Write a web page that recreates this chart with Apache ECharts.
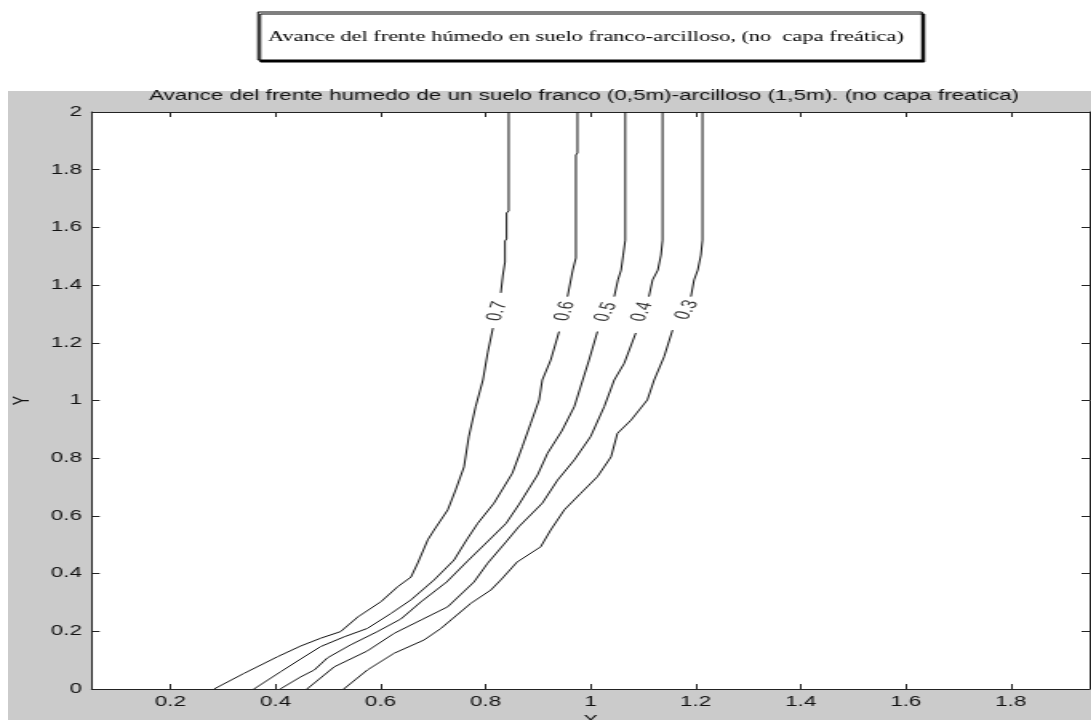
<!DOCTYPE html>
<html>
<head>
<meta charset="utf-8">
<script src="https://cdn.jsdelivr.net/npm/echarts@6/dist/echarts.min.js"></script>
<style>
html,body{margin:0;padding:0;background:#fff;overflow:hidden;}
#wrap{position:absolute;left:0;top:0;width:1091px;height:720px;overflow:hidden;background:#fff;}
#figbg{position:absolute;left:8px;top:91px;width:1083px;height:629px;background:#cbcbcb;}
#chart{position:absolute;left:0;top:0;width:682px;height:720px;transform:scaleX(1.6);transform-origin:0 0;}
</style>
</head>
<body>
<div id="wrap"><div id="figbg"></div><div id="chart"></div></div>
<script>
// ---- data ----
const boxTitle = 'Avance del frente húmedo en suelo franco-arcilloso, (no  capa freática)';
const plotTitle = 'Avance del frente humedo de un suelo franco (0,5m)-arcilloso (1,5m). (no capa freatica)';
const xTicks = [0.2, 0.4, 0.6, 0.8, 1, 1.2, 1.4, 1.6, 1.8];
const yTicks = [0, 0.2, 0.4, 0.6, 0.8, 1, 1.2, 1.4, 1.6, 1.8, 2];
const levels = ['0.7', '0.6', '0.5', '0.4', '0.3'];

// contour 0.7 (below / above its label)
const c07Low = [[0.283,0],[0.340,0.054],[0.404,0.112],[0.448,0.149],[0.486,0.176],[0.524,0.199],[0.557,0.250],[0.601,0.303],[0.633,0.355],[0.658,0.388],[0.671,0.437],[0.690,0.517],[0.702,0.551],[0.728,0.621],[0.743,0.690],[0.759,0.770],[0.768,0.874],[0.781,0.978],[0.795,1.071],[0.804,1.165],[0.814,1.251]];
const c07High = [[0.829,1.373],[0.833,1.435],[0.837,1.480],[0.837,1.553],[0.840,1.560],[0.840,1.650],[0.844,1.657],[0.844,2]];
// contour 0.6
const c06Low = [[0.359,0],[0.410,0.060],[0.448,0.104],[0.486,0.147],[0.531,0.181],[0.575,0.210],[0.620,0.262],[0.658,0.309],[0.702,0.378],[0.740,0.447],[0.764,0.517],[0.785,0.574],[0.816,0.644],[0.851,0.748],[0.870,0.840],[0.886,0.921],[0.902,1.002],[0.908,1.071],[0.924,1.140],[0.940,1.239]];
const c06High = [[0.956,1.360],[0.966,1.452],[0.972,1.494],[0.972,1.851],[0.975,1.858],[0.975,2]];
// contour 0.5
const c05Low = [[0.409,0],[0.448,0.042],[0.474,0.066],[0.499,0.108],[0.543,0.153],[0.594,0.199],[0.639,0.243],[0.677,0.302],[0.726,0.371],[0.766,0.444],[0.801,0.506],[0.839,0.574],[0.863,0.638],[0.899,0.742],[0.918,0.817],[0.945,0.894],[0.969,0.979],[0.985,1.071],[0.997,1.140],[1.013,1.239]];
const c05High = [[1.045,1.360],[1.052,1.418],[1.058,1.452],[1.062,1.504],[1.066,1.556],[1.066,2]];
// contour 0.4
const c04Low = [[0.460,0],[0.512,0.077],[0.575,0.132],[0.626,0.193],[0.677,0.239],[0.728,0.285],[0.778,0.371],[0.804,0.436],[0.839,0.510],[0.863,0.562],[0.908,0.644],[0.937,0.724],[0.969,0.794],[1.000,0.875],[1.026,0.979],[1.045,1.071],[1.064,1.129],[1.086,1.234]];
const c04High = [[1.111,1.360],[1.118,1.418],[1.128,1.452],[1.134,1.504],[1.137,1.556],[1.137,2]];
// contour 0.3
const c03Low = [[0.530,0],[0.575,0.066],[0.626,0.124],[0.683,0.170],[0.715,0.210],[0.772,0.297],[0.810,0.343],[0.829,0.378],[0.860,0.440],[0.905,0.493],[0.924,0.551],[0.950,0.621],[0.981,0.678],[1.013,0.736],[1.039,0.805],[1.051,0.886],[1.077,0.932],[1.108,1.002],[1.121,1.071],[1.140,1.152],[1.156,1.244]];
const c03High = [[1.191,1.360],[1.197,1.418],[1.204,1.452],[1.210,1.504],[1.213,1.556],[1.213,2]];

// inline contour label positions and text angles
const labelX = [0.822, 0.951, 1.029, 1.098, 1.183];
const labelY = [1.310, 1.310, 1.307, 1.307, 1.314];
const labelAngle = [78, 78, 72, 74, 68];

// ---- chart ----
const segments = [c07Low, c07High, c06Low, c06High, c05Low, c05High, c04Low, c04High, c03Low, c03High];
const txtFont = 'Liberation Sans';
const txtColor = '#111';

const lineSeries = segments.map(function (seg) {
  return {
    type: 'line', data: seg, showSymbol: false, symbol: 'none', silent: true,
    smooth: false, clip: true,
    lineStyle: { color: '#111', width: 1 }
  };
});
const labelSeries = {
  type: 'scatter', silent: true, symbolSize: 1,
  itemStyle: { color: 'rgba(0,0,0,0)' },
  data: levels.map(function (lv, i) {
    return { name: lv, value: [labelX[i], labelY[i]], label: { rotate: labelAngle[i] } };
  }),
  label: { show: true, position: 'inside', formatter: '{b}', fontSize: 14, fontFamily: txtFont, color: '#000' }
};

const tickStyle = { color: '#222', width: 1 };
const axisLineStyle = { color: '#222', width: 1 };
function xAxisDef(pos, withLabels) {
  return {
    type: 'value', position: pos, min: 0.05, max: 1.95,
    axisLine: { show: true, onZero: false, lineStyle: axisLineStyle },
    axisTick: { show: true, inside: true, length: 5, customValues: xTicks, lineStyle: tickStyle },
    axisLabel: { show: withLabels, customValues: xTicks, margin: 6, fontSize: 14, fontFamily: txtFont, color: txtColor },
    splitLine: { show: false },
    name: withLabels ? 'X' : '', nameLocation: 'middle', nameGap: 22,
    nameTextStyle: { fontSize: 14, fontFamily: txtFont, color: txtColor }
  };
}
function yAxisDef(pos, withLabels) {
  return {
    type: 'value', position: pos, min: 0, max: 2,
    axisLine: { show: true, onZero: false, lineStyle: axisLineStyle },
    axisTick: { show: true, inside: true, length: 5, customValues: yTicks, lineStyle: tickStyle },
    axisLabel: { show: withLabels, customValues: yTicks, margin: 6, fontSize: 14, fontFamily: txtFont, color: txtColor },
    splitLine: { show: false },
    name: withLabels ? 'Y' : '', nameLocation: 'middle', nameGap: 34, nameRotate: 90,
    nameTextStyle: { fontSize: 14, fontFamily: txtFont, color: txtColor }
  };
}

const chart = echarts.init(document.getElementById('chart'), null, { renderer: 'canvas' });
chart.setOption({
  animation: false,
  backgroundColor: 'transparent',
  grid: { left: 57.3, right: 1.0, top: 112, bottom: 31, show: true, backgroundColor: '#fff', borderWidth: 0, containLabel: false, outerBoundsMode: 'none' },
  xAxis: [xAxisDef('bottom', true), xAxisDef('top', false)],
  yAxis: [yAxisDef('left', true), yAxisDef('right', false)],
  graphic: [
    {
      type: 'rect', silent: true,
      shape: { x: 161.25, y: 12, width: 415, height: 48 },
      style: { fill: '#fff', stroke: '#000', lineWidth: 1, shadowColor: '#000', shadowBlur: 0, shadowOffsetX: 1.5, shadowOffsetY: 2 }
    },
    {
      type: 'text', silent: true, x: 167.5, y: 37,
      style: { text: boxTitle, fontSize: 14, fontFamily: 'Liberation Serif', fill: '#000', align: 'left', verticalAlign: 'middle' }
    },
    {
      type: 'text', silent: true, x: 365, y: 96,
      style: { text: plotTitle, fontSize: 14, fontFamily: txtFont, fill: txtColor, align: 'center', verticalAlign: 'middle' }
    }
  ],
  series: lineSeries.concat([labelSeries])
});
</script>
</body>
</html>
